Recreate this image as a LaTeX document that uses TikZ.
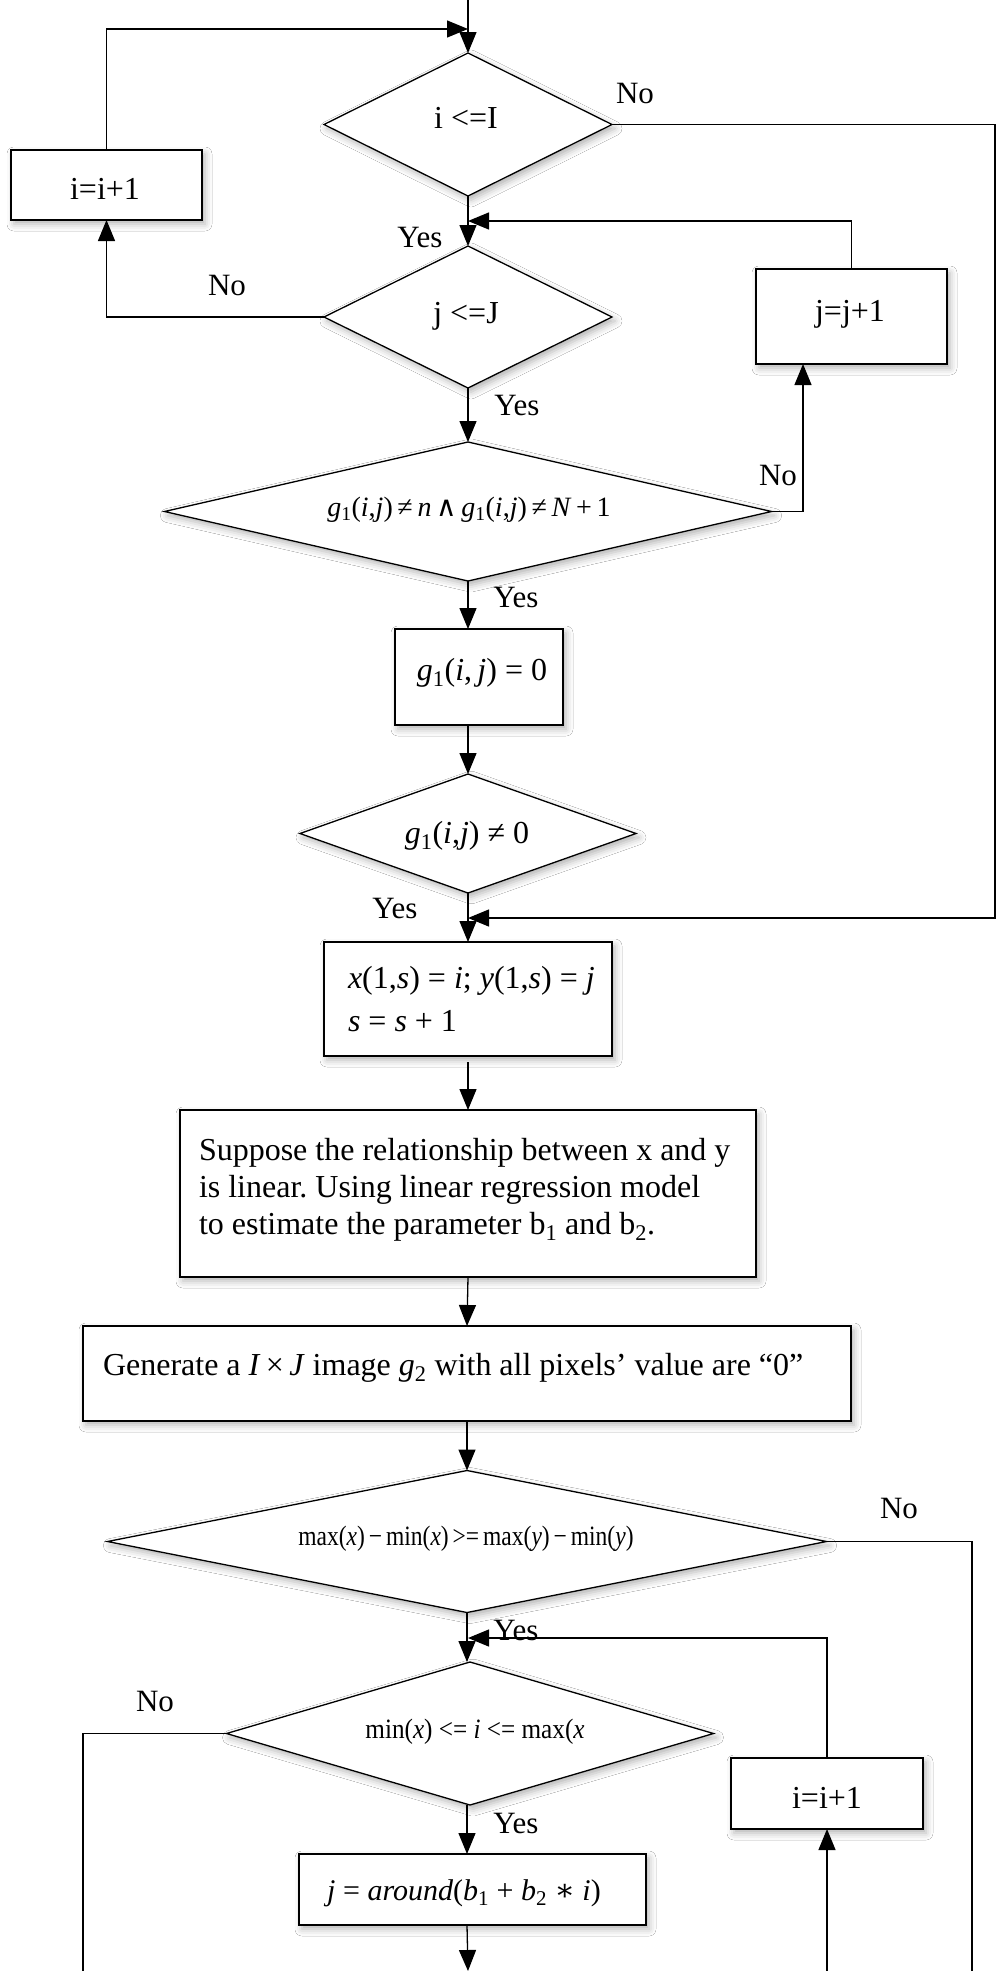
\documentclass[tikz,border=0pt]{standalone}
\usepackage{fontspec}
\usepackage{graphicx}
\setmainfont{Liberation Serif}
\newfontfamily\symfont{DejaVu Serif}
\usetikzlibrary{shapes.geometric,arrows.meta,shadows.blur}
\newcommand\itv[1]{\textit{#1}}
\frenchspacing
\begin{document}
\begin{tikzpicture}[x=1pt,y=-1pt,
  every node/.style={inner sep=0pt,outer sep=0pt},
  soft/.style={blur shadow={shadow xshift=3pt,shadow yshift=-4pt,shadow blur radius=7pt,shadow opacity=30}},
  boxnode/.style={draw,rectangle,line width=1.3pt,fill=white,soft},
  decision/.style={draw,diamond,line width=1.3pt,fill=white,soft},
  line/.style={line width=1.3pt},
  flow/.style={line width=1.3pt,-{Triangle[length=21pt,width=17pt]}},
  lbl/.style={anchor=base,font=\fontsize{31}{37}\selectfont},
  txt/.style={anchor=base,font=\fontsize{32}{37}\selectfont},
  ltxt/.style={anchor=base west,font=\fontsize{32}{37}\selectfont},
  frm/.style={anchor=base,font=\fontsize{28}{32}\selectfont},
]
\fill[white] (0,0) rectangle (997,1971);
\useasboundingbox (0,0) rectangle (997,1971);

% ---- shapes ----
\node[decision,minimum width=288pt,minimum height=143pt] (d1) at (468,124.5) {};
\node[boxnode,minimum width=191pt,minimum height=70pt] (bi) at (106.5,185) {};
\node[decision,minimum width=288pt,minimum height=142pt] (d2) at (468,317) {};
\node[boxnode,minimum width=191pt,minimum height=95pt] (bj) at (851.5,316.5) {};
\node[decision,minimum width=607pt,minimum height=139pt] (d3) at (468,511.5) {};
\node[boxnode,minimum width=168pt,minimum height=96pt] (b3) at (479,677) {};
\node[decision,minimum width=336pt,minimum height=119pt] (d4) at (468,833.5) {};
\node[boxnode,minimum width=288pt,minimum height=114pt] (b4) at (468,999) {};
\node[boxnode,minimum width=576pt,minimum height=167pt] (b5) at (468,1193.5) {};
\node[boxnode,minimum width=768pt,minimum height=95pt] (b6) at (467,1373.5) {};
\node[decision,minimum width=719pt,minimum height=142pt] (d5) at (467,1541.5) {};
\node[decision,minimum width=487pt,minimum height=143pt] (d6) at (470,1733.5) {};
\node[boxnode,minimum width=192pt,minimum height=71pt] (b7) at (827,1793.5) {};
\node[boxnode,minimum width=347pt,minimum height=71pt] (b8) at (472.5,1889.5) {};

% ---- texts inside shapes ----
\node[txt] (t1) at (466,128) {i <=I};
\node[txt] (ti) at (105,199) {i=i+1};
\node[txt] (t2) at (466,323) {j <=J};
\node[txt] (tj) at (850,321) {j=j+1};
\node[frm] (t3) at (469,516) {\itv{g}\textsubscript{1}(\itv{i},\itv{j})\,≠\,\itv{n}\,{\symfont ∧}\,\itv{g}\textsubscript{1}(\itv{i},\itv{j})\,≠\,\itv{N}\,+\,1};
\node[txt] (t4) at (482,680) {\itv{g}\textsubscript{1}(\itv{i},\,\itv{j}) = 0};
\node[txt] (t5) at (467,843) {\itv{g}\textsubscript{1}(\itv{i},\itv{j}) ≠ 0};
\node[ltxt] (t6a) at (348,988) {\itv{x}(1,\itv{s}) = \itv{i}; \itv{y}(1,\itv{s}) = \itv{j}};
\node[ltxt] (t6b) at (348,1031) {\itv{s} = \itv{s} + 1};
\node[ltxt] (s1) at (199,1160) {Suppose the relationship between x and y};
\node[ltxt] (s2) at (199,1197) {is linear. Using linear regression model};
\node[ltxt] (s3) at (199,1234) {to estimate the parameter b\textsubscript{1} and b\textsubscript{2}.};
\node[ltxt] (g2) at (103,1375) {Generate a \itv{I}\,×\,\itv{J} image \itv{g}\textsubscript{2} with all pixels’ value are “0”};
\node[frm] (t7) at (466,1545) {\scalebox{0.84}[1]{max(\itv{x})\,−\,min(\itv{x})\,>=\,max(\itv{y})\,−\,min(\itv{y})}};
\node[frm] (t8) at (475,1738) {\scalebox{0.9}[1]{min(\itv{x}) <= \itv{i} <= max(\itv{x}}};
\node[txt] (ti2) at (827,1808) {i=i+1};
\node[txt,font=\fontsize{30}{36}\selectfont] (t9) at (464,1900) {\itv{j} = \itv{around}(\itv{b}\textsubscript{1} + \itv{b}\textsubscript{2} {\symfont ∗} \itv{i})};

% ---- branch labels ----
\node[lbl] (no1) at (635,103) {No};
\node[lbl] (yes1) at (420,247) {Yes};
\node[lbl] (no2) at (227,295) {No};
\node[lbl] (yes2) at (517,415) {Yes};
\node[lbl] (no3) at (778,485) {No};
\node[lbl] (yes3) at (516,607) {Yes};
\node[lbl] (yes4) at (395,918) {Yes};
\node[lbl] (no5) at (899,1518) {No};
\node[lbl] (yes5) at (516,1640) {Yes};
\node[lbl] (no6) at (155,1711) {No};
\node[lbl] (yes6) at (516,1833) {Yes};

% ---- junction points and open ends ----
\coordinate (topin) at (468,0);
\coordinate (jn1) at (468,29);
\coordinate (jn2) at (468,221);
\coordinate (jn3) at (468,918);
\coordinate (jn4) at (468,1638);
\coordinate (rail) at (995,0);
\coordinate (feed) at (803,0);
\coordinate (bl) at (83,1971);
\coordinate (br) at (972,1971);
\coordinate (bm) at (468,1971);
\coordinate (bup) at (827,1971);

% ---- connectors ----
\draw[flow] (topin) -- (d1.north);
\draw[flow] (bi.north) |- (jn1);
\draw[flow] (d1.east) -- (d1.east -| rail) |- (jn3);
\draw[flow] (d1.south) -- (d2.north);
\draw[flow] (bj.north) |- (jn2);
\draw[flow] (d2.west) -| (bi.south);
\draw[flow] (d2.south) -- (d3.north);
\draw[flow] (d3.east) -| (feed |- bj.south);
\draw[flow] (d3.south) -- (d3.south |- b3.north);
\draw[flow] (b3.south -| d4.north) -- (d4.north);
\draw[flow] (d4.south) -- (d4.south |- b4.north);
\draw[flow,shorten <=6pt] (b4.south) -- (b5.north);
\draw[flow] (b5.south) -- (b6.south |- b6.north);
\draw[flow] (b6.south -| d5.north) -- (d5.north);
\draw[line] (d5.east) -| (br);
\draw[flow] (d5.south) -- (d5.south |- d6.north);
\draw[flow] (b7.north) |- (jn4);
\draw[line] (d6.west) -| (bl);
\draw[flow] (d5.south |- d6.south) -- (d5.south |- b8.north);
\draw[flow] (d5.south |- b8.south) -- (bm);
\draw[flow] (bup) -- (b7.south);
\end{tikzpicture}
\end{document}
